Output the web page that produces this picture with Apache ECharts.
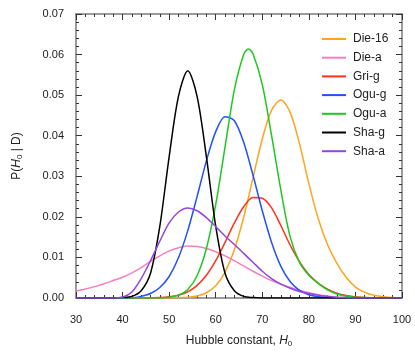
<!DOCTYPE html>
<html>
<head>
<meta charset="utf-8">
<script src="https://cdn.jsdelivr.net/npm/echarts@6/dist/echarts.min.js"></script>
<style>html,body{margin:0;padding:0;background:#fff}#c{width:415px;height:353px}</style>
</head>
<body>
<div id="c"></div>
<script>
const xs = [30,32,34,36,38,40,42,44,46,48,50,52,54,56,58,60,62,64,66,68,70,72,74,76,78,80,82,84,86,88,90,92,94,96,98,100];
const xsOguA = [30,32,34,36,38,40,42,44,46,48,50,52,54,56,58,60,62,64,66,67,68,70,72,74,76,78,80,82,84,86,88,90,92,94,96,98,100];
const die16 = [0,0,0,0,0,0,0,0,0,0,0,0.0001,0.0002,0.0005,0.0013,0.0030,0.0064,0.0119,0.0199,0.0296,0.0392,0.0463,0.0488,0.0457,0.0380,0.0282,0.0196,0.0132,0.0086,0.0051,0.0027,0.0014,0.0007,0.0003,0.0001,0];
const dieA = [0.0017,0.0022,0.0028,0.0035,0.0043,0.0051,0.0062,0.0075,0.0090,0.0104,0.0116,0.0124,0.0128,0.0127,0.0122,0.0114,0.0104,0.0092,0.0079,0.0066,0.0054,0.0043,0.0034,0.0026,0.0019,0.0013,0.0008,0.0005,0.0002,0.0001,0,0,0,0,0,0];
const griG = [0,0,0,0,0,0,0,0,0,0.0001,0.0003,0.0007,0.0015,0.0031,0.0056,0.0092,0.0137,0.0185,0.0225,0.0248,0.0246,0.0222,0.0178,0.0130,0.0089,0.0058,0.0037,0.0022,0.0012,0.0006,0.0003,0.0001,0,0,0,0];
const oguG = [0,0,0,0,0,0,0,0.0004,0.0011,0.0026,0.0053,0.0099,0.0166,0.0250,0.0338,0.0410,0.0447,0.0437,0.0384,0.0303,0.0215,0.0137,0.0078,0.0040,0.0019,0.0008,0.0003,0.0001,0,0,0,0,0,0,0,0];
const oguA = [0,0,0,0,0,0,0,0,0,0,0.0002,0.0007,0.0021,0.0055,0.0122,0.0230,0.0372,0.0513,0.0600,0.0614,0.0602,0.0526,0.0400,0.0265,0.0150,0.0088,0.0056,0.0036,0.0020,0.0010,0.0005,0.0002,0.0001,0,0,0,0];
const shaG = [0,0,0,0,0,0.0001,0.0004,0.0018,0.0061,0.0177,0.0348,0.0497,0.0560,0.0497,0.0348,0.0177,0.0061,0.0018,0.0004,0.0001,0,0,0,0,0,0,0,0,0,0,0,0,0,0,0,0];
const shaA = [0,0,0,0,0,0.0002,0.0015,0.0048,0.0092,0.0140,0.0185,0.0212,0.0222,0.0215,0.0198,0.0176,0.0153,0.0132,0.0110,0.0088,0.0066,0.0048,0.0034,0.0024,0.0016,0.0011,0.0007,0.0004,0.0002,0.0001,0,0,0,0,0,0];

const names = ['Die-16','Die-a','Gri-g','Ogu-g','Ogu-a','Sha-g','Sha-a'];
const colors = ['#ffa41c','#f77fbe','#ff3319','#2050ff','#1ec81e','#000000','#9146e0'];
const vals = [die16, dieA, griG, oguG, oguA, shaG, shaA];
const xsets = [xs, xs, xs, xs, xsOguA, xs, xs];

const chart = echarts.init(document.getElementById('c'), null, {renderer:'canvas'});
const font = 'Liberation Sans, Arial, sans-serif';
const axisCommon = {
  axisLine:{show:true, onZero:false, lineStyle:{color:'#7a7a7a', width:1.5}},
  axisTick:{show:true, inside:true, length:6, lineStyle:{color:'#333', width:1}},
  minorTick:{show:true, splitNumber:5, length:3, lineStyle:{color:'#333', width:1}},
  splitLine:{show:false}
};
const rich = {
  n:{fontFamily:font, fontSize:12, color:'#222'},
  i:{fontFamily:font, fontSize:12, fontStyle:'italic', color:'#222'},
  s:{fontFamily:font, fontSize:8, color:'#222', padding:[7,0,0,0]}
};
chart.setOption({
  animation:false,
  backgroundColor:'#fff',
  grid:{left:76, right:13, top:14, bottom:51},
  legend:{
    orient:'vertical', left:317, top:28, icon:'rect', itemWidth:24, itemHeight:2, itemGap:6.7,
    textStyle:{fontFamily:font, fontSize:12, color:'#222', padding:[0,0,0,2]},
    data:names
  },
  xAxis:[
    Object.assign({type:'value', min:30, max:100, interval:10, position:'bottom',
      axisLabel:{fontFamily:font, fontSize:11, color:'#222', margin:16},
      name:'{n|Hubble constant, }{i|H}{s|0}', nameLocation:'middle', nameGap:35,
      nameTextStyle:{rich:rich}}, axisCommon),
    Object.assign({type:'value', min:30, max:100, interval:10, position:'top',
      axisLabel:{show:false}}, axisCommon)
  ],
  yAxis:[
    Object.assign({type:'value', min:0, max:0.07, interval:0.01, position:'left',
      axisLabel:{fontFamily:font, fontSize:11, color:'#222', margin:12, formatter:v=>v.toFixed(2)},
      name:'{n|P(}{i|H}{s|0}{n| | D)}', nameLocation:'middle', nameGap:52, nameRotate:90,
      nameTextStyle:{rich:rich}}, axisCommon),
    Object.assign({type:'value', min:0, max:0.07, interval:0.01, position:'right',
      axisLabel:{show:false}}, axisCommon)
  ],
  series: names.map((nm,k)=>({
    name:nm, type:'line', symbol:'none', smooth:0.3, clip:true,
    color:colors[k],
    lineStyle:{width:1.5, color:colors[k]},
    data: xsets[k].map((x,j)=>[x, vals[k][j]])
  }))
});
</script>
</body>
</html>
